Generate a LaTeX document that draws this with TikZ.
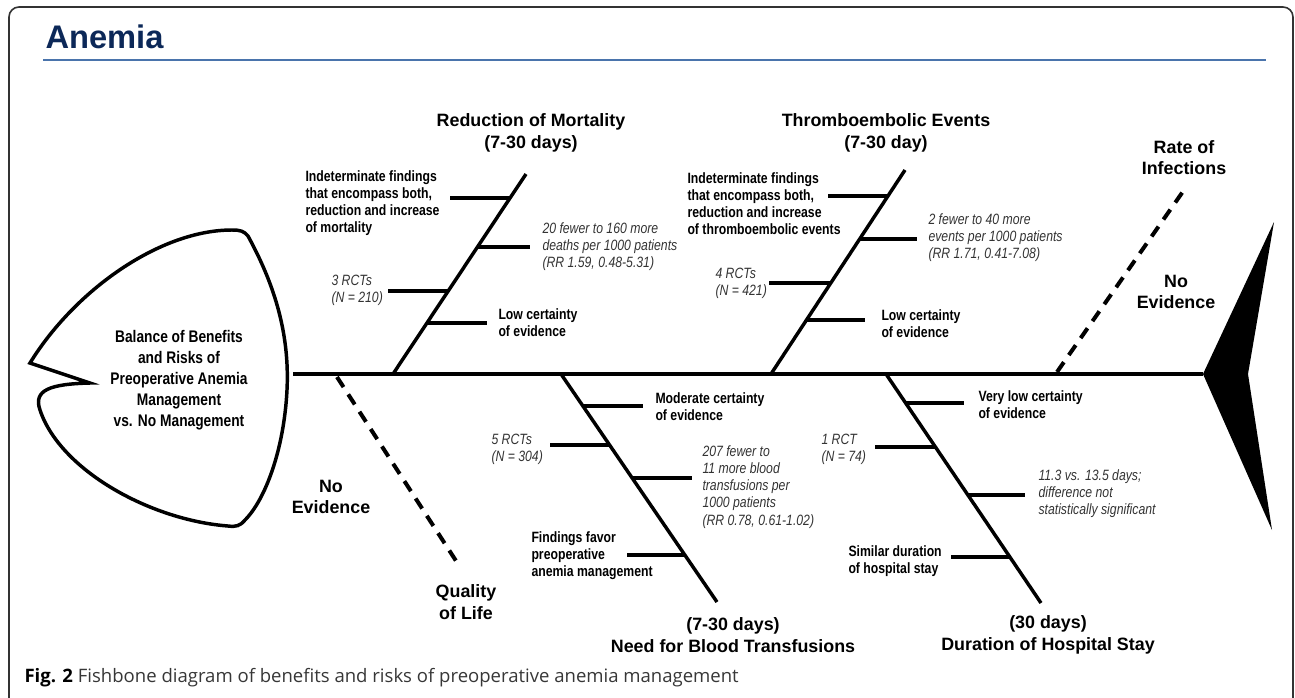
\documentclass[tikz,border=0pt]{standalone}
\usepackage{fontspec}
\setmainfont{Liberation Sans}
\newfontfamily\narrowfont{Liberation Sans}[FakeStretch=0.82]
\newfontfamily\capfont{Open Sans}
\usetikzlibrary{calc}

\definecolor{titlenavy}{RGB}{12,40,88}
\definecolor{ruleblue}{RGB}{74,116,172}
\definecolor{capgray}{RGB}{55,55,55}

\tikzset{every picture/.style={line width=0.75pt},
  bone/.style={line width=2.6pt},
  rib/.style={line width=3pt},
  nobone/.style={line width=3pt, dash pattern=on 9pt off 6.5pt},
  bigtitle/.style={font=\bfseries\fontsize{13.4}{16}\selectfont, align=center, inner sep=0.75pt},
  finding/.style={font=\narrowfont\bfseries\fontsize{11.2}{12.8}\selectfont, align=left, inner sep=0.75pt, anchor=west},
  stat/.style={font=\narrowfont\itshape\fontsize{11.2}{12.8}\selectfont, align=left, inner sep=0.75pt, anchor=west, text=black!80}
}

\begin{document}
\begin{tikzpicture}[x=0.75pt,y=0.75pt,yscale=-1,xscale=1]
\useasboundingbox (0,0) rectangle (1295,697);

%Shape: Frame
\draw [line width=1.2pt, black!80, rounded corners=7.5pt] (9,705) -- (9,7) -- (1293,7) -- (1293,705) ;
% Text Node
\node [anchor=base west, inner sep=0pt, font=\bfseries\fontsize{24.5}{28}\selectfont, text=titlenavy] (title) at (45,48) {Anemia};
%Straight Lines
\draw [ruleblue, line width=1.6pt] (43,60) -- (1266,60) ;

%Shape: Head
\draw [line width=2.6pt] (30,363) .. controls (75,290) and (160,230) .. (232,230) .. controls (240,230) and (244,231) .. (248,236) .. controls (272,280) and (290,330) .. (287,390) .. controls (284,450) and (265,500) .. (245,520) .. controls (240,526) and (236,527) .. (228,526) .. controls (150,520) and (60,470) .. (40,410) .. controls (33,390) and (50,384) .. (90,383) -- cycle ;
% Text Node
\node [font=\narrowfont\bfseries\fontsize{12.6}{15.75}\selectfont, align=center, inner sep=0.75pt] (head) at (179,380) {Balance of Benefits\\and Risks of\\Preoperative Anemia\\Management\\vs. No Management};

%Straight Lines: spine and tail
\coordinate (spine) at (293,374);
\coordinate (tail) at (1203,374);
\draw [bone] (spine) -- (tail) ;
\fill (tail) -- (1274,222) -- (1248,374) -- (1272,530) -- cycle ;

%Straight Lines: mortality
\coordinate (mort0) at (393,374);
\coordinate (mort1) at (526,174);
\draw [bone] (mort0) -- (mort1) ;
\coordinate (m1) at ($(mort0)!0.881!(mort1)$);
\coordinate (m2) at ($(mort0)!0.637!(mort1)$);
\coordinate (m3) at ($(mort0)!0.413!(mort1)$);
\coordinate (m4) at ($(mort0)!0.254!(mort1)$);
\draw [rib] (m1) -- ++(-60,0) ;
\draw [rib] (m2) -- ++(52,0) ;
\draw [rib] (m3) -- ++(-60,0) ;
\draw [rib] (m4) -- ++(60,0) ;
% Text Node
\node [bigtitle] (mortT) at (531,133) {Reduction of Mortality\\(7-30 days)};
\node [finding] (m1txt) at (304,203) {Indeterminate findings\\that encompass both,\\reduction and increase\\of mortality};
\node [stat] (m2txt) at (541,246.5) {20 fewer to 160 more\\deaths per 1000 patients\\(RR 1.59, 0.48-5.31)};
\node [stat] (m3txt) at (330,290) {3 RCTs\\(N = 210)};
\node [finding] (m4txt) at (497,323) {Low certainty\\of evidence};

%Straight Lines: thromboembolic events
\coordinate (thr0) at (771,374);
\coordinate (thr1) at (905,170);
\draw [bone] (thr0) -- (thr1) ;
\coordinate (t1) at ($(thr0)!0.873!(thr1)$);
\coordinate (t2) at ($(thr0)!0.662!(thr1)$);
\coordinate (t3) at ($(thr0)!0.446!(thr1)$);
\coordinate (t4) at ($(thr0)!0.265!(thr1)$);
\draw [rib] (t1) -- ++(-60,0) ;
\draw [rib] (t2) -- ++(57,0) ;
\draw [rib] (t3) -- ++(-62,0) ;
\draw [rib] (t4) -- ++(58,0) ;
% Text Node
\node [bigtitle] (thrT) at (886,133) {Thromboembolic Events\\(7-30 day)};
\node [finding] (t1txt) at (686,204) {Indeterminate findings\\that encompass both,\\reduction and increase\\of thromboembolic events};
\node [stat] (t2txt) at (927,238) {2 fewer to 40 more\\events per 1000 patients\\(RR 1.71, 0.41-7.08)};
\node [stat] (t3txt) at (714,283.5) {4 RCTs\\(N = 421)};
\node [finding] (t4txt) at (880,324) {Low certainty\\of evidence};

%Straight Lines: blood transfusions
\coordinate (bl0) at (561,374);
\coordinate (bl1) at (717,602);
\draw [bone] (bl0) -- (bl1) ;
\coordinate (b1) at ($(bl0)!0.140!(bl1)$);
\coordinate (b2) at ($(bl0)!0.311!(bl1)$);
\coordinate (b3) at ($(bl0)!0.456!(bl1)$);
\coordinate (b4) at ($(bl0)!0.794!(bl1)$);
\draw [rib] (b1) -- ++(60,0) ;
\draw [rib] (b2) -- ++(-60,0) ;
\draw [rib] (b3) -- ++(60,0) ;
\draw [rib] (b4) -- ++(-58,0) ;
% Text Node
\node [bigtitle] (blT) at (733,635) {(7-30 days)\\Need for Blood Transfusions};
\node [finding] (b1txt) at (654,406.5) {Moderate certainty\\of evidence};
\node [stat] (b2txt) at (490,449) {5 RCTs\\(N = 304)};
\node [stat] (b3txt) at (701,487) {207 fewer to\\11 more blood\\transfusions per\\1000 patients\\(RR 0.78, 0.61-1.02)};
\node [finding] (b4txt) at (530,556) {Findings favor\\preoperative\\anemia management};

%Straight Lines: hospital stay
\coordinate (st0) at (886,374);
\coordinate (st1) at (1041,603);
\draw [bone] (st0) -- (st1) ;
\coordinate (s1) at ($(st0)!0.127!(st1)$);
\coordinate (s2) at ($(st0)!0.319!(st1)$);
\coordinate (s3) at ($(st0)!0.528!(st1)$);
\coordinate (s4) at ($(st0)!0.799!(st1)$);
\draw [rib] (s1) -- ++(58,0) ;
\draw [rib] (s2) -- ++(-60,0) ;
\draw [rib] (s3) -- ++(57,0) ;
\draw [rib] (s4) -- ++(-59,0) ;
% Text Node
\node [bigtitle] (stT) at (1048,635) {(30 days)\\Duration of Hospital Stay};
\node [finding] (s1txt) at (977,405) {Very low certainty\\of evidence};
\node [stat] (s2txt) at (820,449) {1 RCT\\(N = 74)};
\node [stat] (s3txt) at (1037,494) {11.3 vs. 13.5 days;\\difference not\\statistically significant};
\node [finding] (s4txt) at (847,561.5) {Similar duration\\of hospital stay};

%Straight Lines: no evidence
\coordinate (qol0) at (337,377);
\coordinate (qol1) at (460,567);
\draw [nobone] (qol0) -- (qol1) ;
\coordinate (inf0) at (1057,372);
\coordinate (inf1) at (1184,190);
\draw [nobone] (inf0) -- (inf1) ;
% Text Node
\node [bigtitle] (qolT) at (466,602) {Quality\\of Life};
\node [bigtitle] (qolNo) at (331,497) {No\\Evidence};
\node [bigtitle] (infT) at (1184,157.5) {Rate of\\Infections};
\node [bigtitle] (infNo) at (1176,292) {No\\Evidence};

% Text Node
\node [anchor=base west, inner sep=0pt, font=\capfont\fontsize{13.9}{16}\selectfont, text=capgray] (caption) at (24,682) {\textbf{\color{black}Fig. 2} Fishbone diagram of benefits and risks of preoperative anemia management};

\end{tikzpicture}
\end{document}
